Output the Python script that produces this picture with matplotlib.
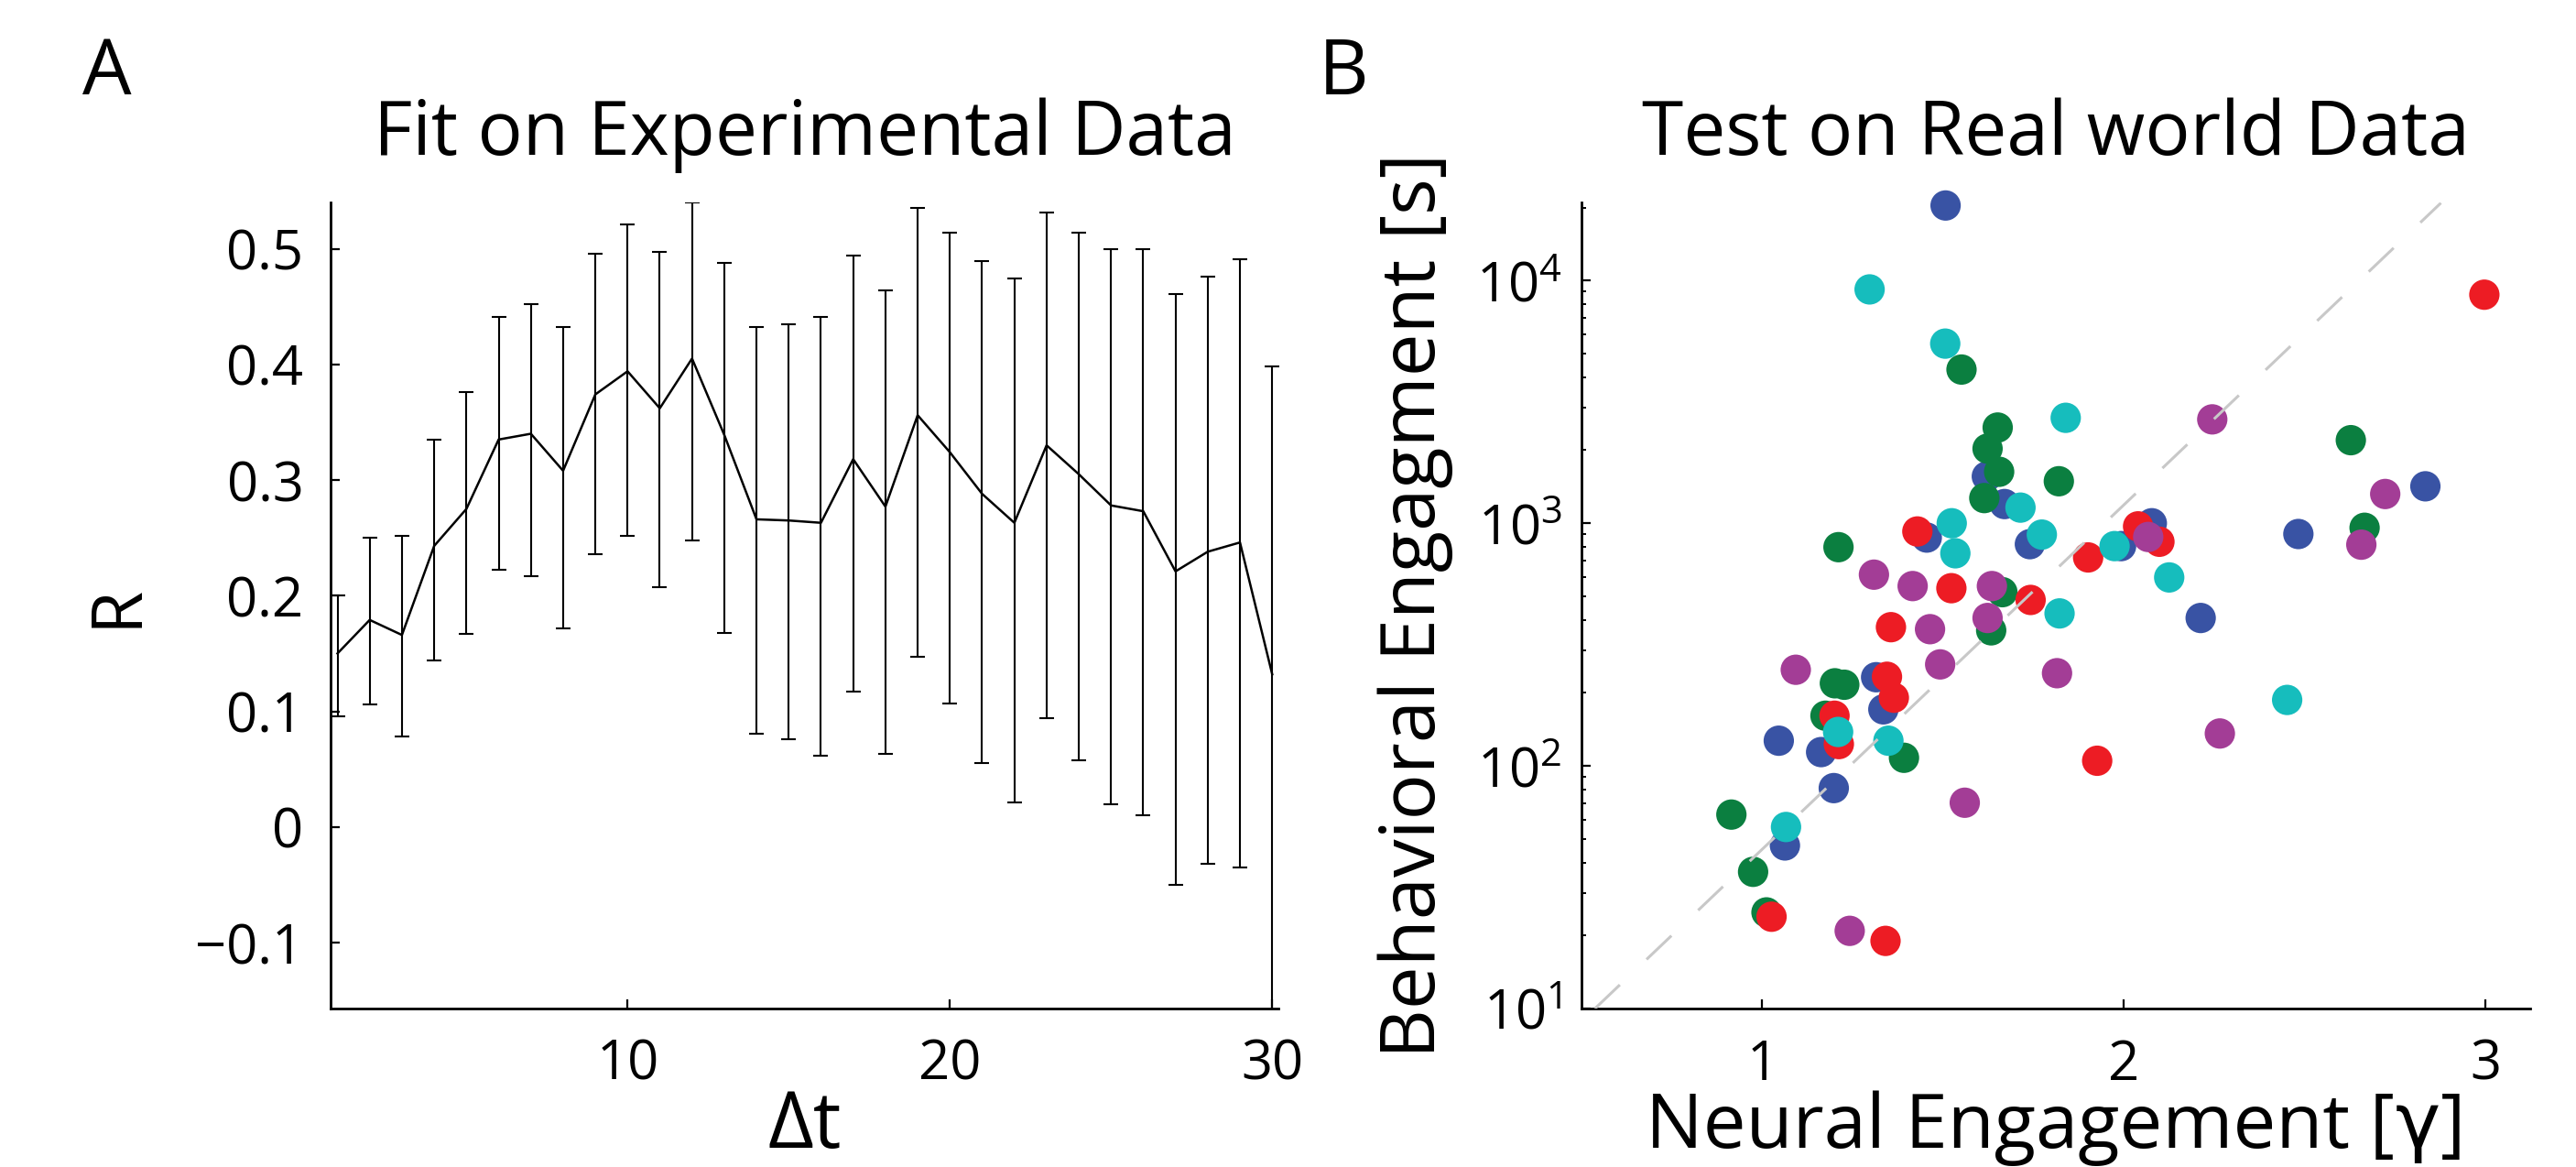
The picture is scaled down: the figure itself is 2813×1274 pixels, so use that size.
import matplotlib
matplotlib.use('Agg')
import matplotlib.pyplot as plt
from matplotlib.ticker import FixedLocator, FixedFormatter, LogLocator, NullFormatter, LogFormatterMathtext

# ---------------- data: panel A ----------------
dt = list(range(1, 31))
R_mean = [0.150, 0.179, 0.166, 0.243, 0.275, 0.335, 0.340, 0.308, 0.374, 0.394,
          0.362, 0.405, 0.339, 0.266, 0.265, 0.263, 0.318, 0.277, 0.356, 0.324,
          0.288, 0.263, 0.330, 0.305, 0.278, 0.273, 0.221, 0.238, 0.246, 0.132]
R_upper = [0.200, 0.250, 0.252, 0.335, 0.376, 0.441, 0.452, 0.432, 0.496, 0.521,
           0.497, 0.540, 0.488, 0.432, 0.435, 0.441, 0.494, 0.464, 0.535, 0.514,
           0.489, 0.474, 0.531, 0.514, 0.500, 0.500, 0.461, 0.476, 0.491, 0.398]
R_lower = [0.096, 0.106, 0.078, 0.144, 0.167, 0.222, 0.217, 0.172, 0.236, 0.252,
           0.207, 0.248, 0.168, 0.081, 0.076, 0.062, 0.117, 0.063, 0.147, 0.107,
           0.055, 0.021, 0.094, 0.058, 0.020, 0.010, -0.050, -0.032, -0.035, -0.175]
xticks_A = [10, 20, 30]
yticks_A = [-0.1, 0, 0.1, 0.2, 0.3, 0.4, 0.5]
yticklabels_A = ['\u22120.1', '0', '0.1', '0.2', '0.3', '0.4', '0.5']

# ---------------- data: panel B ----------------
blue_x = [1.507, 1.621, 1.670, 1.455, 1.740, 1.315, 1.335, 1.163, 1.046, 1.198,
          1.063, 2.833, 2.482, 2.077, 1.992, 2.212]
blue_y = [20400, 1560, 1200, 873, 820, 232, 171, 114, 127, 81,
          47, 1420, 903, 1000, 805, 407]
green_x = [1.551, 1.651, 1.623, 1.655, 1.820, 1.614, 1.211, 1.664, 1.633, 1.201,
           1.227, 1.175, 1.392, 0.915, 0.975, 1.012, 2.627, 2.665]
green_y = [4300, 2480, 2030, 1630, 1490, 1270, 797, 520, 362, 219,
           216, 161, 108, 63, 36.6, 24.9, 2200, 958]
red_x = [1.429, 1.523, 1.742, 1.356, 1.345, 1.364, 1.200, 1.212, 1.026, 1.341,
         2.996, 2.039, 2.098, 1.901, 1.926]
red_y = [925, 540, 483, 373, 233, 191, 161, 123, 23.9, 19.0,
         8750, 971, 839, 723, 105]
cyan_x = [1.297, 1.506, 1.714, 1.839, 1.524, 1.534, 1.773, 1.822, 1.210, 1.349,
          1.066, 1.974, 2.125, 2.451]
cyan_y = [9200, 5500, 1160, 2720, 1000, 752, 898, 425, 138, 127,
          56, 805, 598, 187]
purple_x = [1.309, 1.416, 1.635, 1.623, 1.464, 1.492, 1.093, 1.242, 1.560, 1.815,
            2.244, 2.722, 2.656, 2.067, 2.265]
purple_y = [614, 551, 551, 407, 366, 262, 249, 20.9, 70.5, 241,
            2680, 1320, 816, 878, 136]
diag_x = [0.538, 2.876]
diag_y = [10, 20900]
xticks_B = [1, 2, 3]
yticks_B = [10, 100, 1000, 10000]

groups = [(blue_x, blue_y, '#3953a4'),
          (green_x, green_y, '#0b7f40'),
          (red_x, red_y, '#ed1c24'),
          (cyan_x, cyan_y, '#16bdbd'),
          (purple_x, purple_y, '#a33d96')]

# ---------------- style ----------------
plt.rcParams['font.family'] = ['Open Sans', 'DejaVu Sans']
plt.rcParams['mathtext.fontset'] = 'custom'
plt.rcParams['mathtext.rm'] = 'Open Sans'
plt.rcParams['mathtext.it'] = 'Open Sans:italic'
plt.rcParams['lines.scale_dashes'] = False

W, H = 2813, 1274
fig = plt.figure(figsize=(W / 100, H / 100), dpi=100)


def fx(px):
    return px / W


def fy(py):
    return (H - py) / H


TICK_FS = 43
axA = fig.add_axes([fx(360.6), fy(1101), 1035.7 / W, 880 / H])
axB = fig.add_axes([fx(1726.7), fy(1101), 1036 / W, 880 / H])

for ax in (axA, axB):
    ax.spines['top'].set_visible(False)
    ax.spines['right'].set_visible(False)
    ax.spines['left'].set_linewidth(2.0)
    ax.spines['bottom'].set_linewidth(2.0)
    ax.tick_params(which='major', direction='in', length=7, width=1.6,
                   labelsize=TICK_FS, top=False, right=False)
    ax.tick_params(axis='x', pad=23)

# ---------------- panel A ----------------
err_lo = [m - l for m, l in zip(R_mean, R_lower)]
err_hi = [u - m for m, u in zip(R_mean, R_upper)]
axA.errorbar(dt, R_mean, yerr=[err_lo, err_hi], color='black', lw=1.8,
             elinewidth=1.5, capsize=6, capthick=1.5)
axA.set_xlim(0.775, 30.2)
axA.set_ylim(-0.157, 0.54)
axA.xaxis.set_major_locator(FixedLocator(xticks_A))
axA.yaxis.set_major_locator(FixedLocator(yticks_A))
axA.yaxis.set_major_formatter(FixedFormatter(yticklabels_A))
axA.tick_params(axis='y', pad=21)

# ---------------- panel B ----------------
for gx, gy, col in groups:
    axB.scatter(gx, gy, s=570, c=col, edgecolors='none', zorder=2, clip_on=False)
axB.plot(diag_x, diag_y, color='#c8c8c8', lw=2.2, dashes=(27, 29), zorder=3)
axB.set_yscale('log')
axB.set_xlim(0.5, 3.122)
axB.set_ylim(10, 21000)
axB.xaxis.set_major_locator(FixedLocator(xticks_B))
axB.yaxis.set_major_locator(FixedLocator(yticks_B))
axB.yaxis.set_major_formatter(LogFormatterMathtext())
axB.yaxis.set_minor_locator(LogLocator(base=10, subs=[2, 3, 4, 5, 6, 7, 8, 9], numticks=20))
axB.yaxis.set_minor_formatter(NullFormatter())
axB.tick_params(axis='y', which='minor', direction='in', length=3.6, width=1.4)
axB.tick_params(axis='y', pad=15)

# ---------------- text ----------------
fig.text(fx(878.5), fy(169), 'Fit on Experimental Data', fontsize=59,
         ha='center', va='baseline')
fig.text(fx(2244.7), fy(169), 'Test on Real world Data', fontsize=59,
         ha='center', va='baseline')
fig.text(fx(90), fy(103), 'A', fontsize=61, ha='left', va='baseline')
fig.text(fx(1440), fy(103), 'B', fontsize=61, ha='left', va='baseline')
fig.text(fx(878.5), fy(1253), '\u0394t', fontsize=62, ha='center', va='baseline')
fig.text(fx(148), fy(661), 'R', fontsize=55, rotation=90, rotation_mode='anchor',
         ha='center', va='baseline')
fig.text(fx(1567), fy(661), 'Behavioral Engagment [s]', fontsize=60, rotation=90,
         rotation_mode='anchor', ha='center', va='baseline')

# x label of panel B, with the Greek gamma taken from DejaVu Sans
fig.canvas.draw()
renderer = fig.canvas.get_renderer()
parts = [('Neural Engagement [', ['Open Sans', 'DejaVu Sans']),
         ('\u03b3', ['DejaVu Sans']),
         (']', ['Open Sans', 'DejaVu Sans'])]
pieces = [fig.text(0, fy(1253), s, fontsize=60, family=fam, ha='left', va='baseline')
          for s, fam in parts]
widths = [p.get_window_extent(renderer).width for p in pieces]
x0 = 2244.7 - sum(widths) / 2
for p, w in zip(pieces, widths):
    p.set_x(fx(x0))
    x0 += w

fig.savefig('out.png', dpi=100, facecolor='white')
